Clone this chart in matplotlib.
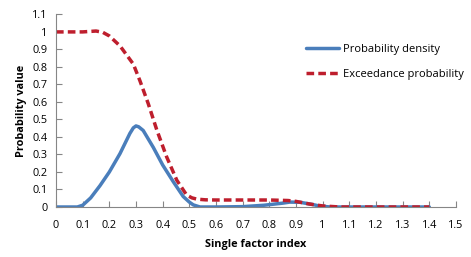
import matplotlib
matplotlib.use("Agg")
import matplotlib.pyplot as plt

# Values
x_density = [0.0, 0.05, 0.08, 0.1, 0.13, 0.165, 0.2, 0.24, 0.277, 0.29, 0.3, 0.31,
             0.327, 0.365, 0.4, 0.44, 0.477, 0.5, 0.515, 0.54, 0.6, 0.7, 0.78,
             0.85, 0.877, 0.915, 0.96, 0.99, 1.03, 1.1, 1.2, 1.3, 1.4]
density = [0.0, 0.0, 0.0, 0.01, 0.052, 0.122, 0.2, 0.305, 0.42, 0.452, 0.463, 0.458,
           0.437, 0.34, 0.24, 0.144, 0.06, 0.028, 0.012, 0.0, 0.0, 0.002, 0.01,
           0.022, 0.028, 0.027, 0.015, 0.005, 0.0, 0.0, 0.0, 0.0, 0.0]

x_exceed = [0.0, 0.1, 0.15, 0.175, 0.2, 0.24, 0.29, 0.315, 0.346, 0.378, 0.415,
            0.453, 0.49, 0.51, 0.528, 0.56, 0.6, 0.69, 0.8, 0.87, 0.9, 0.95,
            1.0, 1.065, 1.2, 1.3, 1.4]
exceed = [1.0, 1.0, 1.005, 0.998, 0.977, 0.92, 0.816, 0.72, 0.59, 0.44, 0.286,
          0.153, 0.068, 0.052, 0.045, 0.041, 0.04, 0.04, 0.04, 0.037, 0.032, 0.017,
          0.006, 0.0, 0.0, 0.0, 0.0]

xticks = [0, 0.1, 0.2, 0.3, 0.4, 0.5, 0.6, 0.7, 0.8, 0.9, 1, 1.1, 1.2, 1.3, 1.4, 1.5]
yticks = [0, 0.1, 0.2, 0.3, 0.4, 0.5, 0.6, 0.7, 0.8, 0.9, 1, 1.1]

plt.rcParams["font.family"] = ["Open Sans", "DejaVu Sans"]

fig = plt.figure(figsize=(4.71, 2.57), dpi=100)
ax = fig.add_axes([56 / 471, 1 - 207 / 257, 400 / 471, (207 - 14.4) / 257])

ax.plot(x_density, density, color="#4a7ebb", lw=2.5, label="Probability density",
        solid_joinstyle="round", solid_capstyle="round")
ax.plot(x_exceed, exceed, color="#be1e2d", lw=2.5, ls=(0, (2.2, 1.2)),
        label="Exceedance probability")

ax.set_xlim(0, 1.5)
ax.set_ylim(0, 1.1)
ax.set_xticks(xticks)
ax.set_yticks(yticks)
ax.set_xticklabels([f"{v:g}" for v in xticks])
ax.set_yticklabels([f"{v:g}" for v in yticks])
ax.tick_params(direction="in", length=4, color="#868686", labelsize=7.8,
               labelcolor="#000000", width=0.8)
ax.tick_params(axis="x", pad=9)
ax.tick_params(axis="y", pad=6)

for side in ("top", "right"):
    ax.spines[side].set_visible(False)
for side in ("left", "bottom"):
    ax.spines[side].set_color("#868686")
    ax.spines[side].set_linewidth(0.8)

ax.set_xlabel("Single factor index", fontsize=7.8, fontweight="bold", labelpad=6)
ax.set_ylabel("Probability value", fontsize=7.8, fontweight="bold", labelpad=4)

ax.legend(loc="upper left", bbox_to_anchor=(0.6, 0.9), frameon=False,
          fontsize=8, handlelength=3.0, labelspacing=1.3, handletextpad=0.3)

fig.savefig("out.png", dpi=100)
